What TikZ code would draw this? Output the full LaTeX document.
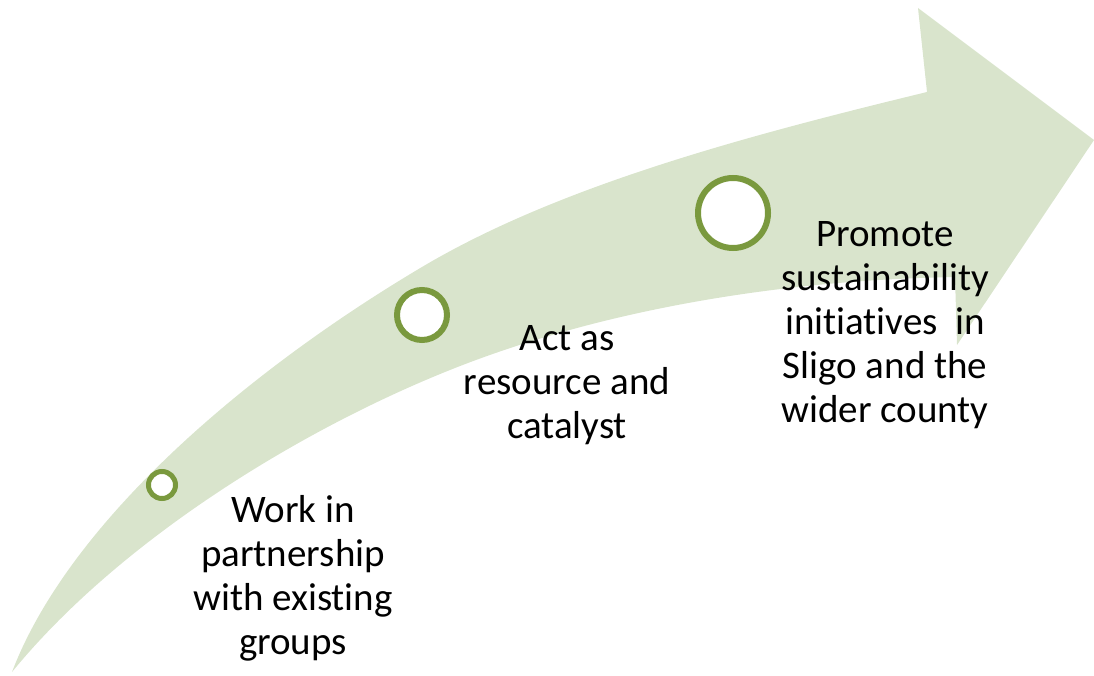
\documentclass[tikz,border=0pt]{standalone}
\usepackage{fontspec}
\setmainfont{Carlito}[Ligatures=NoCommon]
\usepackage{xcolor}
\usetikzlibrary{positioning}
\definecolor{bandgreen}{RGB}{217,228,204}
\definecolor{ringgreen}{RGB}{122,153,62}

\tikzset{
	ring/.style={circle, draw=ringgreen, fill=white, inner sep=0pt},
	label text/.style={align=center, inner sep=0pt, font=\fontsize{39}{44}\selectfont}
}

\begin{document}
\begin{tikzpicture}[x=1pt, y=-1pt]
		\useasboundingbox (0,0) rectangle (1094,676);
		% curved band with head
		\fill[color=bandgreen] (12,672) .. controls (70,520) and (250,369) .. (422,267)
			.. controls (560,185) and (750,135) .. (927,92)
			-- (918,8) -- (1094,140) -- (957,345) -- (955,277)
			.. controls (780,280) and (600,310) .. (450,370)
			.. controls (300,430) and (120,540) .. (12,672) -- cycle;
		% steps
		\node[ring, line width=5pt, minimum size=27pt] (stepA) at (162,485) {};
		\node[ring, line width=6pt, minimum size=50pt] (stepB) at (422,315) {};
		\node[ring, line width=6pt, minimum size=70pt] (stepC) at (733,213) {};
		\node[label text] (textA) at (293,578) {Work in\\partnership\\with existing\\groups};
		\node[label text] (textB) at (567,385) {Act as\\resource and\\catalyst};
		\node[label text] (textC) at (885,325) {Promote\\sustainability\\initiatives\ \ in\\Sligo and the\\wider county};
	\end{tikzpicture}
\end{document}
